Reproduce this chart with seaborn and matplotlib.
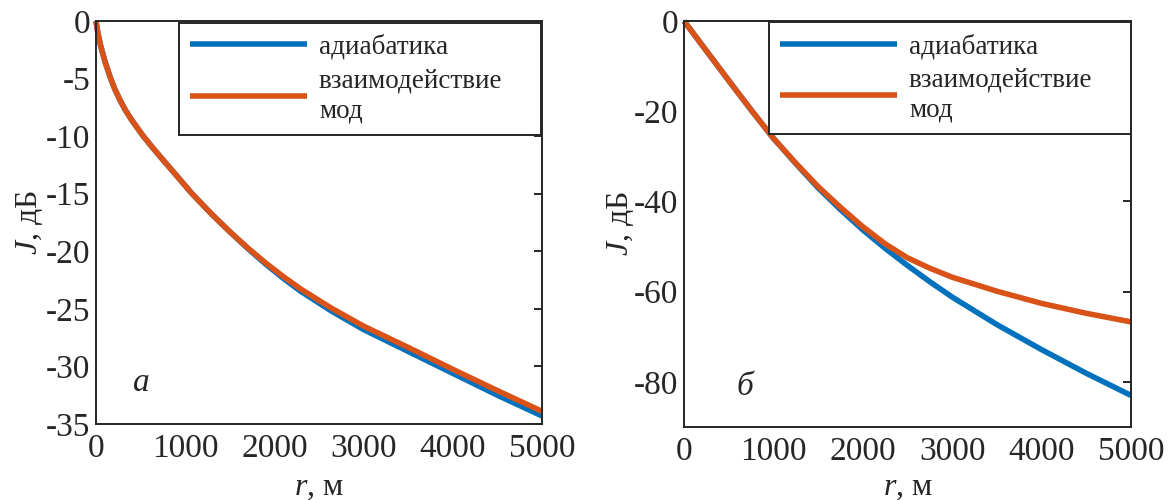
import numpy as np
import pandas as pd
import matplotlib
matplotlib.use("Agg")
import matplotlib.pyplot as plt
import seaborn as sns

# ---------------- data ----------------
series_names = ["адиабатика", "взаимодействие\nмод"]

# panel а
r_a_adiab = [0, 20, 50, 100, 157, 210, 269, 330, 400, 530, 640, 755, 900, 1073, 1300, 1500, 1700, 1900, 2100, 2300, 2641, 3000, 3500, 4000, 4500, 5000]
J_a_adiab = [0, -1.0, -2.1, -3.5, -4.84, -5.9, -6.87, -7.75, -8.6, -10.0, -11.05, -12.1, -13.4, -14.97, -16.8, -18.3, -19.75, -21.1, -22.35, -23.5, -25.2, -26.8, -28.7, -30.6, -32.5, -34.3]
r_a_inter = [0, 20, 50, 100, 157, 210, 269, 330, 400, 530, 640, 755, 900, 1073, 1300, 1500, 1700, 1900, 2100, 2300, 2641, 3000, 3500, 4000, 4500, 5000]
J_a_inter = [0, -1.0, -2.1, -3.5, -4.84, -5.9, -6.87, -7.75, -8.6, -10.0, -11.05, -12.1, -13.4, -14.97, -16.8, -18.3, -19.7, -21.0, -22.2, -23.3, -24.95, -26.5, -28.35, -30.25, -32.1, -33.9]

# panel б
r_b_adiab = [0, 250, 500, 750, 1000, 1250, 1500, 1750, 2000, 2250, 2500, 2750, 3000, 3500, 4000, 4500, 5000]
J_b_adiab = [0, -6.6, -13.2, -19.7, -26.0, -31.6, -37.0, -41.8, -46.3, -50.4, -54.2, -57.8, -61.2, -67.3, -72.85, -78.1, -83.0]
r_b_inter = [0, 250, 500, 750, 1000, 1250, 1500, 1750, 2000, 2250, 2500, 2750, 3000, 3500, 4000, 4500, 5000]
J_b_inter = [0, -6.6, -13.2, -19.7, -26.0, -31.5, -36.7, -41.3, -45.6, -49.4, -52.5, -54.8, -56.8, -59.9, -62.6, -64.8, -66.7]

x_ticks = [0, 1000, 2000, 3000, 4000, 5000]
y_ticks_a = [-35, -30, -25, -20, -15, -10, -5, 0]
y_ticks_b = [-80, -60, -40, -20, 0]
panel_labels = ["а", "б"]

colors = ["#0072BD", "#D95319"]
ink = "#262626"

# ---------------- style ----------------
sns.set_theme(style="white")
plt.rcParams["font.family"] = ["Liberation Serif", "DejaVu Serif"]
plt.rcParams["mathtext.fontset"] = "custom"
plt.rcParams["mathtext.it"] = "Liberation Serif:italic"
plt.rcParams["mathtext.rm"] = "Liberation Serif"
plt.rcParams["axes.unicode_minus"] = False

fig = plt.figure(figsize=(11.72, 5.0), dpi=100)
ax_a = fig.add_axes([96 / 1172, 76 / 500, 446 / 1172, 403 / 500])
ax_b = fig.add_axes([684 / 1172, 73 / 500, 447 / 1172, 406 / 500])


def make_df(r1, j1, r2, j2):
    d1 = pd.DataFrame({"r": r1, "J": j1, "s": series_names[0]})
    d2 = pd.DataFrame({"r": r2, "J": j2, "s": series_names[1]})
    return pd.concat([d1, d2], ignore_index=True)


df_a = make_df(r_a_adiab, J_a_adiab, r_a_inter, J_a_inter)
df_b = make_df(r_b_adiab, J_b_adiab, r_b_inter, J_b_inter)

tick_fs = 24
label_fs = 23
panels = [
    (ax_a, df_a, y_ticks_a, (-35, 0), panel_labels[0], (504, -31.4),
     (-0.148, 0.5), (0.5, -0.158), (0.186, 0.0, 0.812, 0.995)),
    (ax_b, df_b, y_ticks_b, (-90, 0), panel_labels[1], (679, -81),
     (-0.143, 0.5), (0.5, -0.148), (0.190, 0.0, 0.810, 0.997)),
]
for ax, df, yt, ylim, lab, lab_pos, ylc, xlc, leg_box in panels:
    sns.lineplot(data=df, x="r", y="J", hue="s", hue_order=series_names,
                 palette=colors, linewidth=4.0, ax=ax, legend=False,
                 estimator=None, sort=False)
    for ln in ax.lines:
        ln.set_solid_capstyle("butt")
        ln.set_solid_joinstyle("round")
        ln.set_clip_on(False)
    ax.set_xlim(0, 5000)
    ax.set_ylim(*ylim)
    ax.set_xticks(x_ticks)
    ax.set_yticks(yt)
    ax.tick_params(direction="in", length=6, width=1.4, colors=ink,
                   labelsize=tick_fs, top=True, right=True, labelcolor=ink)
    ax.tick_params(axis="x", pad=7)
    ax.tick_params(axis="y", pad=4)
    for sp in ax.spines.values():
        sp.set_linewidth(1.4)
        sp.set_color(ink)
        sp.set_visible(True)
    ax.set_xlabel(r"$r$, м", fontsize=label_fs, color=ink)
    ax.set_ylabel(r"$J$, дБ", fontsize=label_fs, color=ink)
    ax.xaxis.label.set_va("center")
    ax.yaxis.label.set_va("center")
    ax.xaxis.set_label_coords(*xlc)
    ax.yaxis.set_label_coords(*ylc)
    ax.text(lab_pos[0], lab_pos[1], lab, fontsize=tick_fs, style="italic",
            ha="center", va="center", color=ink)
    leg = ax.legend(handles=ax.lines[:2], labels=series_names,
                    loc="upper left", bbox_to_anchor=leg_box, mode="expand",
                    borderaxespad=0.0, fontsize=19.5, frameon=True,
                    fancybox=False, handlelength=4.3, handletextpad=0.45,
                    borderpad=0.42, labelspacing=0.3)
    fr = leg.get_frame()
    fr.set_edgecolor(ink)
    fr.set_linewidth(1.4)
    fr.set_alpha(1)
    for t in leg.get_texts():
        t.set_color(ink)
        t.set_linespacing(1.3)
    for h in leg.get_lines():
        h.set_linewidth(4.0)

fig.savefig("out.png", dpi=100)
